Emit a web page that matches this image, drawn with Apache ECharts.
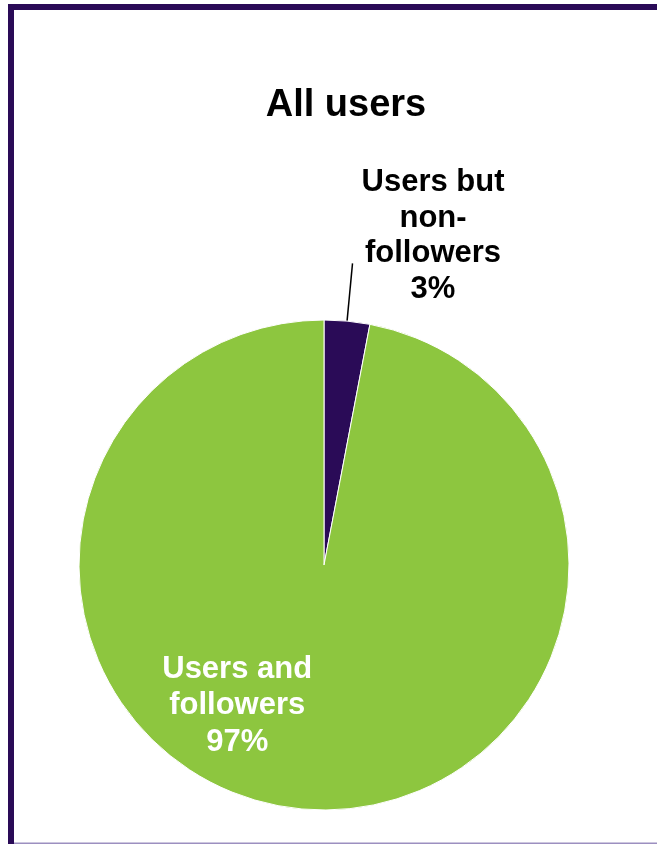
<!DOCTYPE html>
<html>
<head>
<meta charset="utf-8">
<script src="https://cdn.jsdelivr.net/npm/echarts@6/dist/echarts.min.js"></script>
<style>
  html, body { margin: 0; padding: 0; background: #ffffff; }
  #chart { width: 657px; height: 845px; }
</style>
</head>
<body>
<div id="chart"></div>
<script>
// Share of all users, split by whether they also follow
const categories = ['Users but\nnon-\nfollowers', 'Users and\nfollowers'];
const shares = [3, 97];
const sliceColors = ['#2A0B57', '#8DC63F'];
const titleText = 'All users';

const FONT = '"Liberation Sans", Arial, sans-serif';
const FRAME = '#2A0B57';

// Wrap each label line in a centred rich-text token
function richLines(name, value) {
  return (name + '\n' + value + '%').split('\n').map(l => '{c|' + l + '}').join('\n');
}

const chart = echarts.init(document.getElementById('chart'), null, { renderer: 'canvas' });

chart.setOption({
  backgroundColor: '#ffffff',
  animation: false,
  title: {
    text: titleText,
    left: 341,
    top: 81,
    textAlign: 'center',
    textStyle: { fontFamily: FONT, fontSize: 38, fontWeight: 'bold', color: '#000000', lineHeight: 40 }
  },
  graphic: [
    // slide frame: heavy top and left edges, thin bottom rule
    { type: 'rect', shape: { x: 8, y: 4, width: 660, height: 6 }, style: { fill: FRAME }, z: 10 },
    { type: 'rect', shape: { x: 8, y: 4, width: 6, height: 840 }, style: { fill: FRAME }, z: 10 },
    { type: 'rect', shape: { x: 14, y: 842.5, width: 660, height: 1.5 }, style: { fill: '#9C8FC0' }, z: 10 }
  ],
  series: [{
    type: 'pie',
    center: [324, 565],
    radius: 245,
    startAngle: 90,
    clockwise: true,
    avoidLabelOverlap: false,
    itemStyle: { borderColor: '#ffffff', borderWidth: 1 },
    labelLine: {
      show: true,
      length: 58,
      length2: 0,
      lineStyle: { color: '#000000', width: 1.5 }
    },
    labelLayout: function (params) {
      if (params.dataIndex === 1) {
        return { dx: -75, dy: 16 };
      }
      return {};
    },
    data: categories.map((name, i) => {
      const inside = i === 1;
      return {
        name: name,
        value: shares[i],
        itemStyle: { color: sliceColors[i] },
        label: {
          show: true,
          position: inside ? 'inside' : 'outside',
          distanceToLabelLine: 9,
          edgeDistance: 5,
          padding: inside ? 0 : [0, 0, 55, 0],
          formatter: p => richLines(p.name, p.value),
          rich: {
            c: {
              align: 'center',
              fontFamily: FONT,
              fontSize: 31,
              fontWeight: 'bold',
              lineHeight: inside ? 36.5 : 35.5,
              color: inside ? '#ffffff' : '#000000'
            }
          }
        },
        labelLine: { show: !inside }
      };
    })
  }]
});
</script>
</body>
</html>
